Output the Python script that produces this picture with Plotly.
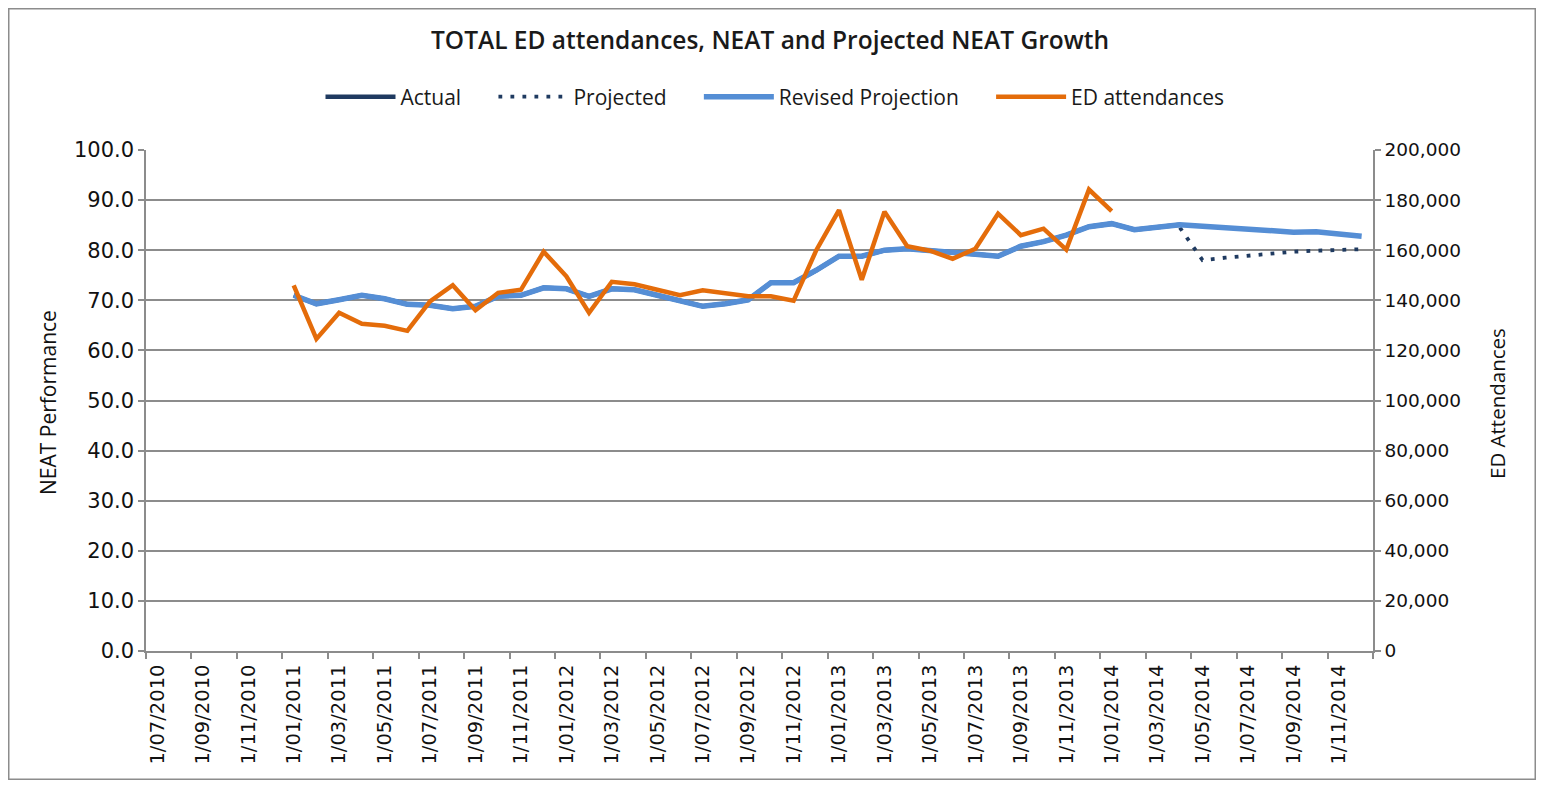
import plotly.graph_objects as go

months = [
    "1/07/2010", "1/08/2010", "1/09/2010", "1/10/2010", "1/11/2010", "1/12/2010",
    "1/01/2011", "1/02/2011", "1/03/2011", "1/04/2011", "1/05/2011", "1/06/2011",
    "1/07/2011", "1/08/2011", "1/09/2011", "1/10/2011", "1/11/2011", "1/12/2011",
    "1/01/2012", "1/02/2012", "1/03/2012", "1/04/2012", "1/05/2012", "1/06/2012",
    "1/07/2012", "1/08/2012", "1/09/2012", "1/10/2012", "1/11/2012", "1/12/2012",
    "1/01/2013", "1/02/2013", "1/03/2013", "1/04/2013", "1/05/2013", "1/06/2013",
    "1/07/2013", "1/08/2013", "1/09/2013", "1/10/2013", "1/11/2013", "1/12/2013",
    "1/01/2014", "1/02/2014", "1/03/2014", "1/04/2014", "1/05/2014", "1/06/2014",
    "1/07/2014", "1/08/2014", "1/09/2014", "1/10/2014", "1/11/2014", "1/12/2014",
]

N = None
actual = [N, N, N, N, N, N,
          71.0, 69.3, 70.1, 71.0, 70.3, 69.2,
          69.0, 68.3, 68.8, 70.8, 71.0, 72.5,
          72.3, 70.8, 72.3, 72.1, 71.0, 69.9,
          68.8, 69.3, 70.1, 73.5, 73.5, 76.0,
          78.8, 78.8, 80.0, 80.3, 80.0, 79.5,
          79.2, 78.8, 80.8, 81.7, 83.0, 84.7,
          85.3, 84.1, 84.7, 85.1, N, N,
          N, N, N, N, N, N]

projected = [N] * 45 + [84.5, 78.0, 78.5, 78.9, 79.4, 79.7, 79.9, 80.1, 80.2]

revised = [N, N, N, N, N, N,
           71.0, 69.3, 70.1, 71.0, 70.3, 69.2,
           69.0, 68.3, 68.8, 70.8, 71.0, 72.5,
           72.3, 70.8, 72.3, 72.1, 71.0, 69.9,
           68.8, 69.3, 70.1, 73.5, 73.5, 76.0,
           78.8, 78.8, 80.0, 80.3, 80.0, 79.5,
           79.2, 78.8, 80.8, 81.7, 83.0, 84.7,
           85.3, 84.1, 84.7, 85.1, 84.8, 84.5,
           84.1, 83.7, 83.6, 83.7, 83.3, 82.8]

ed_attendances = [N, N, N, N, N, N,
                  146000, 124600, 135000, 130600, 129800, 127800,
                  139600, 146000, 136000, 143000, 144200, 159400,
                  149600, 135000, 147400, 146400, 144200, 142000,
                  144000, 143000, 141600, 141600, 139800, 160000,
                  176000, 148200, 175400, 161600, 159800, 156600,
                  160600, 174600, 166000, 168600, 160200, 184200,
                  175600, N, N, N, N, N,
                  N, N, N, N, N, N]

series_names = ["Actual", "Projected", "Revised Projection", "ED attendances"]

NAVY = "#1F3A60"
BLUE = "#558ED5"
ORANGE = "#E46C0A"
GRID = "#8C8C8C"
LBL = "Open Sans, Noto Sans, sans-serif"
TICK = "DejaVu Sans, Verdana, sans-serif"
PAD = "\u00a0" * 5  # spacing between legend entries

fig = go.Figure()
fig.add_trace(go.Scatter(x=months, y=actual, name=series_names[0] + PAD, mode="lines",
                         line=dict(color=NAVY, width=4.5)))
fig.add_trace(go.Scatter(x=months, y=projected, name=series_names[1] + PAD, mode="lines",
                         line=dict(color=NAVY, width=3.8, dash="3.8px,8.2px")))
fig.add_trace(go.Scatter(x=months, y=revised, name=series_names[2] + PAD, mode="lines",
                         line=dict(color=BLUE, width=5.5)))
fig.add_trace(go.Scatter(x=months, y=ed_attendances, name=series_names[3], mode="lines",
                         line=dict(color=ORANGE, width=4.5), yaxis="y2"))

# The page body adds an 8px margin, so work in screen pixels and shift.
OFF = 8
W, H = 1544 - 2 * OFF, 788 - 2 * OFF
L, R, T, B = 146 - OFF, 1373 - OFF, 150 - OFF, 651 - OFF
pw, ph = R - L, B - T

def px(x):
    return (x - OFF - L) / pw

def py(y):
    return (B - (y - OFF)) / ph

fig.update_layout(
    width=W, height=H,
    margin=dict(l=L, r=W - R, t=T, b=H - B, pad=0),
    paper_bgcolor="white", plot_bgcolor="white",
    title=dict(text="TOTAL ED attendances, NEAT and Projected NEAT Growth",
               x=(770 - OFF) / W, xanchor="center", y=1 - (40 - OFF) / H, yanchor="middle",
               font=dict(family=LBL, size=24.5, weight=600, color="#1a1a1a")),
    legend=dict(orientation="h", x=px(775), xanchor="center", y=py(97), yanchor="middle",
                font=dict(family=LBL, size=21, color="#1a1a1a"),
                itemwidth=70, tracegroupgap=0, bgcolor="rgba(0,0,0,0)"),
    xaxis=dict(type="category", categoryorder="array", categoryarray=months,
               range=[-0.5, len(months) - 0.5],
               tickmode="linear", tick0=0, dtick=2, tickson="boundaries",
               ticks="outside", ticklen=6, tickcolor=GRID, tickwidth=1.5,
               tickangle=-90, showgrid=False, ticklabelstandoff=4,
               showline=True, linecolor=GRID, linewidth=1.5,
               tickfont=dict(family=TICK, size=19.5, color="#111")),
    yaxis=dict(range=[0, 100], dtick=10, tickformat=".1f",
               showgrid=True, gridcolor=GRID, gridwidth=1.5,
               showline=True, linecolor=GRID, linewidth=1.5,
               ticks="outside", ticklen=6, tickcolor=GRID, tickwidth=1.5,
               zeroline=False,
               tickfont=dict(family=TICK, size=21, color="#111")),
    yaxis2=dict(range=[0, 200000], dtick=20000, tickformat=",",
                overlaying="y", side="right",
                showgrid=False, showline=True, linecolor=GRID, linewidth=1.5,
                ticks="outside", ticklen=6, tickcolor=GRID, tickwidth=1.5,
                zeroline=False,
                tickfont=dict(family=TICK, size=18.5, color="#111")),
    annotations=[
        dict(text="NEAT Performance", xref="paper", yref="paper",
             x=px(48), y=py(403), xanchor="center", yanchor="middle",
             textangle=-90, showarrow=False,
             font=dict(family=LBL, size=21, color="#111")),
        dict(text="ED Attendances", xref="paper", yref="paper",
             x=px(1497), y=py(404), xanchor="center", yanchor="middle",
             textangle=-90, showarrow=False,
             font=dict(family=LBL, size=20.5, color="#111")),
    ],
    shapes=[dict(type="rect", xref="paper", yref="paper",
                 x0=px(OFF + 0.75), x1=px(OFF + W - 0.75),
                 y0=py(OFF + H - 0.75), y1=py(OFF + 0.75),
                 line=dict(color="#8C8C8C", width=1.5), layer="below")],
)

fig.write_html("out.html")
